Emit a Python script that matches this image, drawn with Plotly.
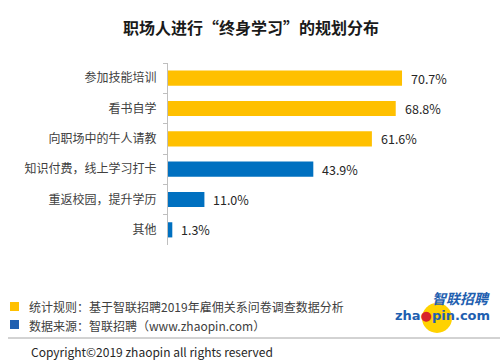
import plotly.graph_objects as go

categories = ["参加技能培训", "看书自学", "向职场中的牛人请教", "知识付费，线上学习打卡", "重返校园，提升学历", "其他"]
values = [70.7, 68.8, 61.6, 43.9, 11.0, 1.3]
colors = ["#FFC000", "#FFC000", "#FFC000", "#0070C0", "#0070C0", "#0070C0"]
value_labels = [f"{v:.1f}%" for v in values]

FONT = "Noto Sans CJK SC"

fig = go.Figure()
fig.add_trace(go.Bar(
    y=categories, x=values, orientation="h",
    marker=dict(color=colors, line=dict(width=0)),
    width=0.5,
    hoverinfo="skip",
))

for c, v, t in zip(categories, values, value_labels):
    fig.add_annotation(x=v, y=c, text=t, xanchor="left", yanchor="middle",
                       xshift=7, showarrow=False,
                       font=dict(family=FONT, size=12.5, color="#262626"))

W, H = 504, 362
left, right, top, bottom = 168, 16, 63, 117
px_per = 3.31
xmax = (W - left - right) / px_per

fig.update_layout(
    width=W, height=H,
    margin=dict(l=left, r=right, t=top, b=bottom, autoexpand=False),
    paper_bgcolor="white", plot_bgcolor="white",
    showlegend=False,
    font=dict(family=FONT, size=12, color="#404040"),
    bargap=0.5,
)
fig.update_xaxes(range=[0, xmax], visible=False)
fig.update_yaxes(
    autorange="reversed", type="category", automargin=False,
    showline=True, linecolor="#BFBFBF", linewidth=1,
    ticks="outside", tickson="boundaries", ticklen=4, tickcolor="#BFBFBF",
    ticklabelstandoff=8,
    showgrid=False, zeroline=False,
    tickfont=dict(family=FONT, size=12, color="#404040"),
)

def to_paper_x(xp):
    return (xp - left) / (W - left - right)

def to_paper_y(yp):
    return (H - bottom - yp) / (H - top - bottom)

# Title
fig.add_annotation(xref="paper", yref="paper", x=to_paper_x(251), y=to_paper_y(27),
                   xanchor="center", yanchor="middle",
                   text="<b>职场人进行“终身学习”的规划分布</b>", showarrow=False,
                   font=dict(family=FONT, size=16, color="#1a1a1a"))

# Footer
fig.add_shape(type="rect", xref="paper", yref="paper",
              x0=to_paper_x(10), x1=to_paper_x(19), y0=to_paper_y(302), y1=to_paper_y(311),
              fillcolor="#FFC000", line=dict(width=0))
fig.add_shape(type="rect", xref="paper", yref="paper",
              x0=to_paper_x(10), x1=to_paper_x(19), y0=to_paper_y(320), y1=to_paper_y(329),
              fillcolor="#1F5FB0", line=dict(width=0))
fig.add_annotation(xref="paper", yref="paper", x=to_paper_x(27), y=to_paper_y(306),
                   xanchor="left", yanchor="middle", showarrow=False,
                   text="统计规则：基于智联招聘2019年雇佣关系问卷调查数据分析",
                   font=dict(family=FONT, size=12, color="#404040"))
fig.add_annotation(xref="paper", yref="paper", x=to_paper_x(27), y=to_paper_y(325),
                   xanchor="left", yanchor="middle", showarrow=False,
                   text="数据来源：智联招聘（www.zhaopin.com）",
                   font=dict(family=FONT, size=12, color="#404040"))
fig.add_shape(type="line", xref="paper", yref="paper",
              x0=to_paper_x(8), x1=to_paper_x(500), y0=to_paper_y(338), y1=to_paper_y(338),
              line=dict(color="#A6A6A6", width=1))
fig.add_annotation(xref="paper", yref="paper", x=to_paper_x(29), y=to_paper_y(351),
                   xanchor="left", yanchor="middle", showarrow=False,
                   text="Copyright©2019 zhaopin all rights reserved",
                   font=dict(family=FONT, size=12, color="#262626"))

# Logo
fig.add_shape(type="circle", xref="paper", yref="paper",
              x0=to_paper_x(422), x1=to_paper_x(452), y0=to_paper_y(303), y1=to_paper_y(333),
              fillcolor="#FFD200", line=dict(width=0), layer="below")
fig.add_annotation(xref="paper", yref="paper", x=to_paper_x(492), y=to_paper_y(298),
                   xanchor="right", yanchor="middle", showarrow=False,
                   text="<b><i>智联招聘</i></b>",
                   font=dict(family=FONT, size=14, color="#1F5FB0"))
fig.add_annotation(xref="paper", yref="paper", x=to_paper_x(492), y=to_paper_y(315),
                   xanchor="right", yanchor="middle", showarrow=False,
                   text="<b>zha<span style='color:#D8232A'>●</span>pin.com</b>",
                   font=dict(family="DejaVu Sans", size=13, color="#1F5FB0"))

fig.write_html("out.html", config={"displayModeBar": False},
               post_script="document.body.style.margin='0';document.body.style.padding='0';")
